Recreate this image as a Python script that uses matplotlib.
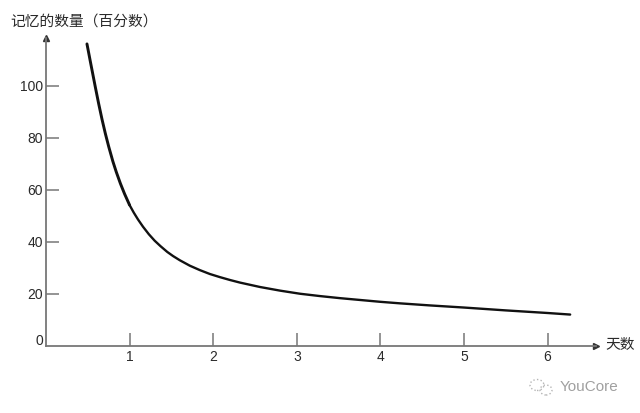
import matplotlib
matplotlib.use('Agg')
import matplotlib.pyplot as plt
from matplotlib.patches import Ellipse

plt.rcParams['font.family'] = ['Noto Sans CJK SC', 'DejaVu Sans']

days = [0.49, 0.53, 0.59, 0.63, 0.67, 0.71, 0.75, 0.8, 0.84, 0.89, 0.94, 1.0, 1.05, 1.1, 1.16, 1.23, 1.3,
        1.37, 1.45, 1.52, 1.6, 1.72, 1.84, 1.96, 2.08, 2.2, 2.32, 2.56, 2.8, 3.04, 3.28, 3.52, 3.76,
        4.0, 4.24, 4.6, 5.0, 5.5, 6.0, 6.27]
memory = [116, 109.3, 99.4, 93, 87, 81.5, 76.5, 70.8, 66.8, 62.3, 58.3, 54, 51.1, 48.5, 45.7, 42.8, 40.3,
          38.2, 36, 34.4, 32.8, 30.7, 29, 27.5, 26.3, 25.2, 24.2, 22.5, 21.1, 19.9, 19, 18.2, 17.5,
          16.8, 16.2, 15.4, 14.6, 13.5, 12.5, 11.9]
x_ticks = [1, 2, 3, 4, 5, 6]
y_ticks = [20, 40, 60, 80, 100]

W, H = 640, 413
x0, y0 = 46, 345.5
px_day, px_unit = 83.6, 2.6
x_end, y_end = 596, 38

fig = plt.figure(figsize=(W / 100, H / 100), dpi=100)
ax = fig.add_axes([x0 / W, (H - y0) / H, (x_end - x0) / W, (y0 - y_end) / H])
ax.set_xlim(0, (x_end - x0) / px_day)
ax.set_ylim(0, (y0 - y_end) / px_unit)
ax.patch.set_alpha(0)

grey = '#777777'
text_c = '#2a2a2a'
for s in ['top', 'right']:
    ax.spines[s].set_visible(False)
for s in ['left', 'bottom']:
    ax.spines[s].set_color(grey)
    ax.spines[s].set_linewidth(1.3)

# line is heavier on the steep part
ax.plot(days[:12], memory[:12], color='#111111', lw=2.1, solid_joinstyle='round', solid_capstyle='round')
ax.plot(days[11:], memory[11:], color='#111111', lw=1.7, solid_joinstyle='round', solid_capstyle='round')

ax.set_xticks(x_ticks)
ax.set_yticks(y_ticks)
ax.tick_params(axis='x', direction='in', length=9.5, width=1.1, color=grey, pad=3,
               labelsize=10, labelcolor=text_c)
ax.tick_params(axis='y', direction='in', length=9.5, width=1.1, color=grey, pad=2,
               labelsize=10, labelcolor=text_c)
for lab in ax.get_xticklabels() + ax.get_yticklabels():
    lab.set_family('Liberation Sans')

ax.plot(1, 0, '>', color='#333333', ms=4, transform=ax.transAxes, clip_on=False)
ax.plot(0, 1, '^', color='#333333', ms=4, transform=ax.transAxes, clip_on=False)

fig.text(39 / W, 1 - 341 / H, '0', ha='center', va='center', fontsize=10, color=text_c,
         family='Liberation Sans')
fig.text(10 / W, 1 - 23 / H, '记忆的数量（百分数）', ha='left', va='center', fontsize=10.6, color=text_c)
fig.text(605 / W, 1 - 345 / H, '天数', ha='left', va='center', fontsize=10.6, color=text_c)
fig.text(589.5 / W, 1 - 387 / H, 'YouCore', ha='center', va='center', fontsize=11, color='#a0a0a0',
         family='Liberation Sans')

# wechat watermark icon
for cx, cy, w, h in [(537, 385, 14, 11), (546, 390, 12, 10)]:
    fig.add_artist(Ellipse((cx / W, 1 - cy / H), w / W, h / H, transform=fig.transFigure,
                           fill=False, ec='#b5b5b5', lw=1, ls=':'))

fig.savefig('out.png', dpi=100)
